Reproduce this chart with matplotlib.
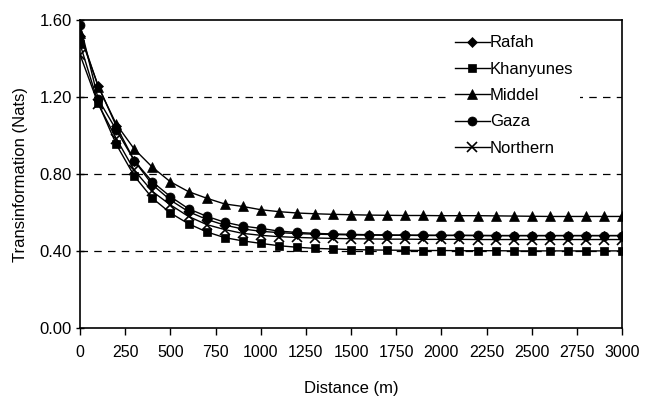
import matplotlib
matplotlib.use("Agg")
import matplotlib.pyplot as plt

plt.rcParams['font.family'] = ['Liberation Sans', 'DejaVu Sans']
plt.rcParams['font.size'] = 12

distance = list(range(0, 3001, 100))

rafah = [1.52, 1.26, 1.05, 0.87, 0.745, 0.665, 0.605, 0.565, 0.535, 0.515,
         0.503, 0.496, 0.491, 0.488, 0.486, 0.484, 0.483, 0.482, 0.482, 0.481,
         0.481, 0.481, 0.480, 0.480, 0.480, 0.480, 0.480, 0.480, 0.480, 0.480, 0.480]
khanyunes = [1.475, 1.17, 0.955, 0.79, 0.675, 0.598, 0.542, 0.50, 0.47, 0.453,
             0.44, 0.428, 0.42, 0.414, 0.411, 0.408, 0.406, 0.405, 0.404, 0.403,
             0.403, 0.402, 0.402, 0.402, 0.401, 0.401, 0.401, 0.401, 0.401, 0.401, 0.401]
middel = [1.535, 1.255, 1.06, 0.93, 0.836, 0.76, 0.709, 0.675, 0.645, 0.632,
          0.615, 0.605, 0.598, 0.594, 0.591, 0.589, 0.587, 0.586, 0.585, 0.585,
          0.584, 0.584, 0.584, 0.583, 0.582, 0.581, 0.580, 0.580, 0.580, 0.580, 0.580]
gaza = [1.577, 1.19, 1.03, 0.87, 0.76, 0.683, 0.62, 0.581, 0.55, 0.53,
        0.518, 0.504, 0.497, 0.492, 0.489, 0.487, 0.485, 0.484, 0.483, 0.483,
        0.482, 0.482, 0.482, 0.481, 0.481, 0.481, 0.481, 0.481, 0.481, 0.481, 0.481]
northern = [1.42, 1.165, 0.985, 0.82, 0.71, 0.64, 0.58, 0.538, 0.512, 0.492,
            0.482, 0.475, 0.471, 0.468, 0.466, 0.464, 0.463, 0.462, 0.462, 0.461,
            0.461, 0.461, 0.460, 0.460, 0.460, 0.460, 0.460, 0.460, 0.460, 0.460, 0.460]

series = [("Rafah", rafah, "D", 5.5), ("Khanyunes", khanyunes, "s", 6),
          ("Middel", middel, "^", 6.5), ("Gaza", gaza, "o", 6.5),
          ("Northern", northern, "x", 6.5)]

fig = plt.figure(figsize=(6.46, 4.04), dpi=100)
ax = fig.add_axes([0.124, 0.188, 0.839, 0.762])

for name, vals, mk, ms in series:
    ax.plot(distance, vals, color="black", lw=1, marker=mk, markersize=ms,
            markeredgewidth=1.2 if mk == "x" else 0.5, label=name)

for yv in [0.4, 0.8, 1.2]:
    ax.axhline(yv, color="black", lw=0.9, ls=(0, (6, 5)), zorder=0)

ax.set_xlim(0, 3000)
ax.set_ylim(0, 1.6)
ax.set_xticks(range(0, 3001, 250))
ax.set_yticks([0, 0.4, 0.8, 1.2, 1.6])
ax.set_yticklabels(["0.00", "0.40", "0.80", "1.20", "1.60"])
ax.tick_params(axis="y", direction="inout", length=6, width=1, pad=3)
ax.tick_params(axis="x", direction="out", length=5, width=1, pad=7,
               labelsize=11.5)
for s in ax.spines.values():
    s.set_linewidth(1.2)

ax.set_xlabel("Distance (m)", labelpad=15)
ax.set_ylabel("Transinformation (Nats)", labelpad=8)

leg = ax.legend(loc="upper left", bbox_to_anchor=(0.679, 0.972), frameon=True,
                facecolor="white", edgecolor="white", framealpha=1,
                handlelength=2.1, handletextpad=0.0, labelspacing=0.68,
                borderpad=0.4, borderaxespad=0, fontsize=12)
leg.get_frame().set_linewidth(0)

fig.savefig("out.png", dpi=100)
